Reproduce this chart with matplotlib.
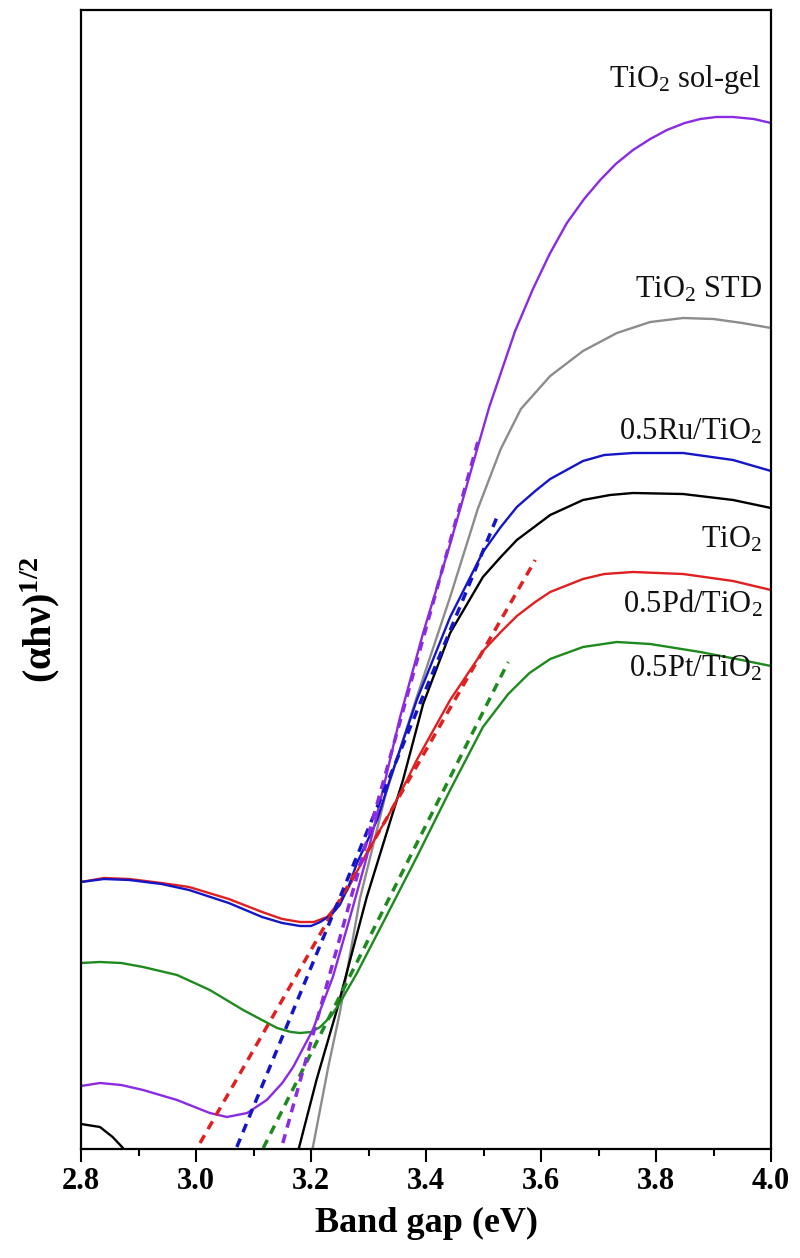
import matplotlib
matplotlib.use("Agg")
import matplotlib.pyplot as plt
from matplotlib.ticker import MultipleLocator

plt.rcParams['font.family'] = ['Liberation Serif', 'DejaVu Serif']
plt.rcParams['mathtext.fontset'] = 'custom'
plt.rcParams['mathtext.rm'] = 'Liberation Serif'
plt.rcParams['mathtext.it'] = 'Liberation Serif:italic'
plt.rcParams['mathtext.bf'] = 'Liberation Serif:bold'

# ---- data (x in eV, y in arbitrary units) ----
solgel_x = [2.800, 2.833, 2.870, 2.908, 2.967, 3.024, 3.054, 3.089, 3.123, 3.150, 3.169, 3.203,
            3.238, 3.268, 3.297, 3.325, 3.355, 3.395, 3.442, 3.489, 3.510, 3.555, 3.586, 3.615,
            3.645, 3.675, 3.703, 3.730, 3.760, 3.790, 3.819, 3.850, 3.877, 3.905, 3.934, 3.970,
            4.000]
solgel_y = [63, 66, 64, 59, 49, 36, 32, 36, 49, 66, 82, 119,
            172, 232, 292, 359, 432, 516, 605, 700, 742, 818, 860, 895,
            926, 950, 969, 985, 999, 1010, 1019, 1026, 1030, 1032, 1032, 1030,
            1026]

std_x = [3.181, 3.203, 3.230, 3.250, 3.285, 3.330, 3.384, 3.442, 3.490, 3.530, 3.565, 3.616,
         3.673, 3.732, 3.790, 3.847, 3.900, 3.950, 4.000]
std_y = [-80, 1, 82, 136, 250, 355, 452, 552, 640, 700, 740, 773,
         798, 816, 827, 831, 830, 826, 821]

ru_x = [2.800, 2.840, 2.884, 2.940, 2.988, 3.057, 3.115, 3.150, 3.181, 3.200, 3.216, 3.235,
        3.250, 3.265, 3.280, 3.315, 3.337, 3.384, 3.442, 3.499, 3.530, 3.558, 3.590, 3.616,
        3.673, 3.710, 3.760, 3.847, 3.934, 4.000]
ru_y = [267, 270, 269, 265, 259, 246, 232, 226, 223, 223, 227, 234,
        244, 262, 286, 329, 369, 449, 532, 597, 622, 642, 658, 670,
        688, 694, 696, 696, 689, 678]

tio2_x = [2.800, 2.833, 2.855, 2.873, 2.920, 3.100, 3.179, 3.210, 3.245, 3.297, 3.360, 3.395,
          3.442, 3.499, 3.530, 3.558, 3.616, 3.673, 3.720, 3.760, 3.847, 3.934, 4.000]
tio2_y = [25, 22, 12, 1, -40, -200, 1, 70, 139, 252, 369, 445,
          516, 572, 592, 609, 634, 649, 654, 656, 655, 649, 641]

pd_x = [2.800, 2.840, 2.884, 2.940, 2.988, 3.057, 3.115, 3.150, 3.181, 3.205, 3.228, 3.245,
        3.263, 3.297, 3.337, 3.367, 3.384, 3.442, 3.499, 3.530, 3.558, 3.590, 3.616, 3.673,
        3.710, 3.760, 3.847, 3.934, 4.000]
pd_y = [267, 271, 270, 266, 262, 250, 237, 230, 227, 227, 232, 244,
        259, 296, 336, 369, 389, 449, 498, 517, 533, 547, 557, 570,
        575, 577, 575, 568, 559]

pt_x = [2.800, 2.833, 2.870, 2.908, 2.967, 3.024, 3.082, 3.141, 3.165, 3.181, 3.200, 3.216,
        3.235, 3.250, 3.280, 3.325, 3.384, 3.442, 3.499, 3.543, 3.580, 3.616, 3.673, 3.732,
        3.790, 3.877, 3.940, 4.000]
pt_y = [186, 187, 186, 182, 174, 159, 139, 121, 117, 116, 117, 122,
        133, 146, 176, 226, 292, 359, 422, 455, 476, 490, 502, 507,
        505, 497, 490, 483]

# tangent (Tauc) lines: endpoints
fit_pd_x, fit_pd_y = [3.007, 3.590], [6, 589]
fit_ru_x, fit_ru_y = [3.071, 3.525], [2, 634]
fit_solgel_x, fit_solgel_y = [3.151, 3.490], [6, 707]
fit_pt_x, fit_pt_y = [3.117, 3.543], [1, 487]

labels = ['TiO$_2$ sol-gel', 'TiO$_2$ STD', '0.5Ru/TiO$_2$', 'TiO$_2$', '0.5Pd/TiO$_2$', '0.5Pt/TiO$_2$']
label_y = [1069, 859, 717, 609, 545, 480]

c_solgel = '#8A2BE2'
c_std = '#8C8C8C'
c_ru = '#1515C8'
c_tio2 = '#000000'
c_pd = '#E02020'
c_pt = '#1E8A1E'

fig = plt.figure(figsize=(8, 12.58), dpi=100)
ax = fig.add_axes([81/800, 109/1258, 690/800, 1139/1258])

lw = 1.7
ax.plot(std_x, std_y, color=c_std, lw=lw)
ax.plot(tio2_x, tio2_y, color=c_tio2, lw=lw)
ax.plot(pt_x, pt_y, color=c_pt, lw=lw)
ax.plot(pd_x, pd_y, color=c_pd, lw=lw)
ax.plot(ru_x, ru_y, color=c_ru, lw=lw)
ax.plot(solgel_x, solgel_y, color=c_solgel, lw=lw)

dl = 2.5
ds = (2.6, 2.0)
ax.plot(fit_pd_x, fit_pd_y, color=c_pd, lw=dl, ls=(0, ds))
ax.plot(fit_ru_x, fit_ru_y, color=c_ru, lw=dl, ls=(0, ds))
ax.plot(fit_pt_x, fit_pt_y, color=c_pt, lw=dl, ls=(0, ds))
ax.plot(fit_solgel_x, fit_solgel_y, color=c_solgel, lw=dl, ls=(0, ds))

for t, y in zip(labels, label_y):
    ax.text(3.985, y, t, ha='right', va='center', fontsize=22, color='#111111')

ax.set_xlim(2.8, 4.0)
ax.set_ylim(0, 1139)
ax.xaxis.set_minor_locator(MultipleLocator(0.1))
ax.set_xticks([2.8, 3.0, 3.2, 3.4, 3.6, 3.8, 4.0])
ax.set_xticklabels(['2.8', '3.0', '3.2', '3.4', '3.6', '3.8', '4.0'])
ax.tick_params(axis='x', which='major', direction='out', length=9, width=1.5,
               labelsize=22, pad=4)
ax.tick_params(axis='x', which='minor', direction='out', length=5, width=1.5)
for lab in ax.get_xticklabels():
    lab.set_fontweight('bold')
ax.set_yticks([])
for s in ax.spines.values():
    s.set_linewidth(1.6)

ax.set_xlabel('Band gap (eV)', fontsize=26, fontweight='bold', labelpad=8)
ax.set_ylabel('(αhν)$^{\\mathbf{1/2}}$', fontsize=29, fontweight='bold')
ax.yaxis.set_label_coords(-0.027, 0.465)

fig.savefig('out.png', dpi=100)
